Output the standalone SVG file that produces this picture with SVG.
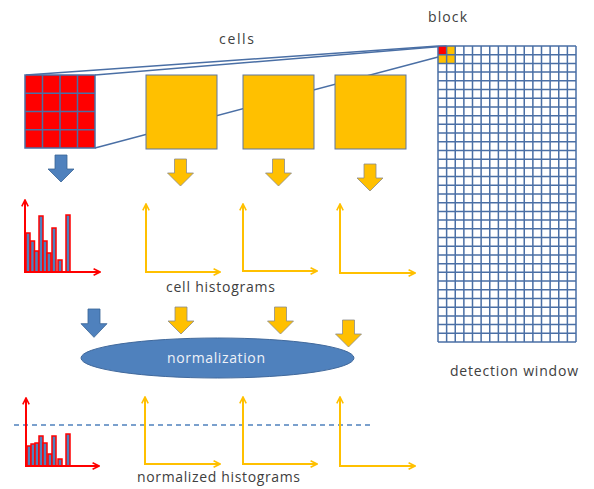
<svg xmlns="http://www.w3.org/2000/svg" xmlns:xlink="http://www.w3.org/1999/xlink" width="594" height="489" viewBox="0 0 594 489">
<style>
.lbl{font-family:"Open Sans","Liberation Sans",sans-serif;font-size:14px;fill:#404040}
.wlbl{font-family:"Open Sans","Liberation Sans",sans-serif;font-size:14px;fill:#EEF2F8}
.conn{stroke:#4A6FA5;stroke-width:1.5;fill:none}
.grid{stroke:#4A6FA5;stroke-width:1.5;fill:none}
.ysq{fill:#FFC000;stroke:#5F77A0;stroke-width:1}
.yarr{fill:#FFC000;stroke:#8C8C8C;stroke-width:0.8}
.barr{fill:#4F81BD;stroke:#3A6496;stroke-width:0.8}
.yax{stroke:#FFC000;stroke-width:2;fill:none;marker-start:url(#ya);marker-end:url(#ya)}
.rax{stroke:#FF0000;stroke-width:2;fill:none;marker-start:url(#ra);marker-end:url(#ra)}
.bar{fill:#4F81BD;stroke:#FF0000;stroke-width:1.5}
</style>
<defs>
<marker id="ya" viewBox="0 0 10 10" refX="9" refY="5" markerWidth="4" markerHeight="4" orient="auto-start-reverse" markerUnits="strokeWidth"><path d="M1,1 L9,5 L1,9" fill="none" stroke="#FFC000" stroke-width="2"/></marker>
<marker id="ra" viewBox="0 0 10 10" refX="9" refY="5" markerWidth="4" markerHeight="4" orient="auto-start-reverse" markerUnits="strokeWidth"><path d="M1,1 L9,5 L1,9" fill="none" stroke="#FF0000" stroke-width="2"/></marker>
<path id="darr" d="M-6,0 H6 V14 H13 L0,27 L-13,14 H-6 Z"/>
</defs>
<rect width="594" height="489" fill="#FFFFFF"/>

<g id="connectors">
<line class="conn" x1="26" y1="75" x2="438" y2="46"/>
<line class="conn" x1="95" y1="75" x2="446.6" y2="46"/>
<line class="conn" x1="95" y1="148" x2="446.6" y2="54.7"/>
</g>

<g id="cell-grid">
<rect x="25" y="75" width="70" height="73" fill="#FF0000"/>
<path class="grid" d="M25,75 H95 V148 H25 Z M42.5,75 V148 M60,75 V148 M77.5,75 V148 M25,93.25 H95 M25,111.5 H95 M25,129.75 H95"/>
</g>

<g id="cell1"><rect class="ysq" x="146" y="75" width="71" height="74"/></g>
<g id="cell2"><rect class="ysq" x="243" y="75" width="71" height="74"/></g>
<g id="cell3"><rect class="ysq" x="335" y="75" width="71" height="74"/></g>

<g id="arrows-top">
<use xlink:href="#darr" class="barr" transform="translate(61,155)"/>
<use xlink:href="#darr" class="yarr" transform="translate(180.5,159)"/>
<use xlink:href="#darr" class="yarr" transform="translate(278.5,159)"/>
<use xlink:href="#darr" class="yarr" transform="translate(370,164)"/>
</g>

<g id="hist-red">
<rect class="bar" x="26" y="233" width="4" height="39"/>
<rect class="bar" x="30.5" y="241" width="4" height="31"/>
<rect class="bar" x="34.5" y="251" width="4" height="21"/>
<rect class="bar" x="39" y="216" width="4" height="56"/>
<rect class="bar" x="43" y="241" width="4" height="31"/>
<rect class="bar" x="47" y="253" width="4" height="19"/>
<rect class="bar" x="52" y="228" width="4" height="44"/>
<rect class="bar" x="58" y="260" width="4" height="12"/>
<rect class="bar" x="66" y="215" width="4" height="57"/>
<polyline class="rax" points="25,200 25,272 100,272"/>
</g>

<g id="hist1"><polyline class="yax" points="146,204 146,272 220,272"/></g>
<g id="hist2"><polyline class="yax" points="243,204 243,271 317,271"/></g>
<g id="hist3"><polyline class="yax" points="340,204 340,273 415,273"/></g>

<text class="lbl" x="166" y="292" textLength="109">cell histograms</text>

<g id="arrows-mid">
<use xlink:href="#darr" class="barr" transform="translate(94,309) scale(1,1.05)"/>
<use xlink:href="#darr" class="yarr" transform="translate(181,307)"/>
<use xlink:href="#darr" class="yarr" transform="translate(280.5,307)"/>
<use xlink:href="#darr" class="yarr" transform="translate(348.5,320)"/>
</g>

<g id="normalization">
<ellipse cx="217.5" cy="358" rx="136.5" ry="20" fill="#4F81BD" stroke="#41699C" stroke-width="1"/>
<text class="wlbl" x="216" y="363" text-anchor="middle" textLength="98">normalization</text>
</g>

<g id="nhist-red">
<line x1="14" y1="425" x2="372" y2="425" stroke="#4F81BD" stroke-width="1.5" stroke-dasharray="5,4"/>
<rect class="bar" x="27" y="446" width="4" height="20"/>
<rect class="bar" x="31" y="444" width="4" height="22"/>
<rect class="bar" x="35" y="443" width="4" height="23"/>
<rect class="bar" x="39" y="436" width="4" height="30"/>
<rect class="bar" x="43" y="443" width="4" height="23"/>
<rect class="bar" x="48" y="454" width="4" height="12"/>
<rect class="bar" x="52" y="436" width="4" height="30"/>
<rect class="bar" x="58" y="459" width="4" height="7"/>
<rect class="bar" x="66" y="434" width="4" height="32"/>
<polyline class="rax" points="26,398 26,466 99,466"/>
</g>

<g id="nhist1"><polyline class="yax" points="145,397 145,464 220,464"/></g>
<g id="nhist2"><polyline class="yax" points="243,397 243,464 317,464"/></g>
<g id="nhist3"><polyline class="yax" points="340,397 340,466 415,466"/></g>

<text class="lbl" x="137" y="482" textLength="163">normalized histograms</text>

<g id="detection-window">
<rect x="438" y="46" width="138" height="296" fill="#FFFFFF"/>
<rect x="438" y="46" width="8.6" height="8.7" fill="#FF0000"/>
<rect x="446.6" y="46" width="8.6" height="8.7" fill="#FFC000"/>
<rect x="438" y="54.7" width="8.6" height="8.7" fill="#FFC000"/>
<rect x="446.6" y="54.7" width="8.6" height="8.7" fill="#FFC000"/>
<path class="grid" d="M438,46 V342 M446.625,46 V342 M455.25,46 V342 M463.875,46 V342 M472.5,46 V342 M481.125,46 V342 M489.75,46 V342 M498.375,46 V342 M507,46 V342 M515.625,46 V342 M524.25,46 V342 M532.875,46 V342 M541.5,46 V342 M550.125,46 V342 M558.75,46 V342 M567.375,46 V342 M576,46 V342
M438,46 H576 M438,54.71 H576 M438,63.41 H576 M438,72.12 H576 M438,80.82 H576 M438,89.53 H576 M438,98.24 H576 M438,106.94 H576 M438,115.65 H576 M438,124.35 H576 M438,133.06 H576 M438,141.76 H576 M438,150.47 H576 M438,159.18 H576 M438,167.88 H576 M438,176.59 H576 M438,185.29 H576 M438,194 H576 M438,202.71 H576 M438,211.41 H576 M438,220.12 H576 M438,228.82 H576 M438,237.53 H576 M438,246.24 H576 M438,254.94 H576 M438,263.65 H576 M438,272.35 H576 M438,281.06 H576 M438,289.76 H576 M438,298.47 H576 M438,307.18 H576 M438,315.88 H576 M438,324.59 H576 M438,333.29 H576 M438,342 H576"/>
</g>

<text class="lbl" x="219" y="44" textLength="35">cells</text>
<text class="lbl" x="428" y="22" textLength="39">block</text>
<text class="lbl" x="450" y="376" textLength="128">detection window</text>
</svg>
